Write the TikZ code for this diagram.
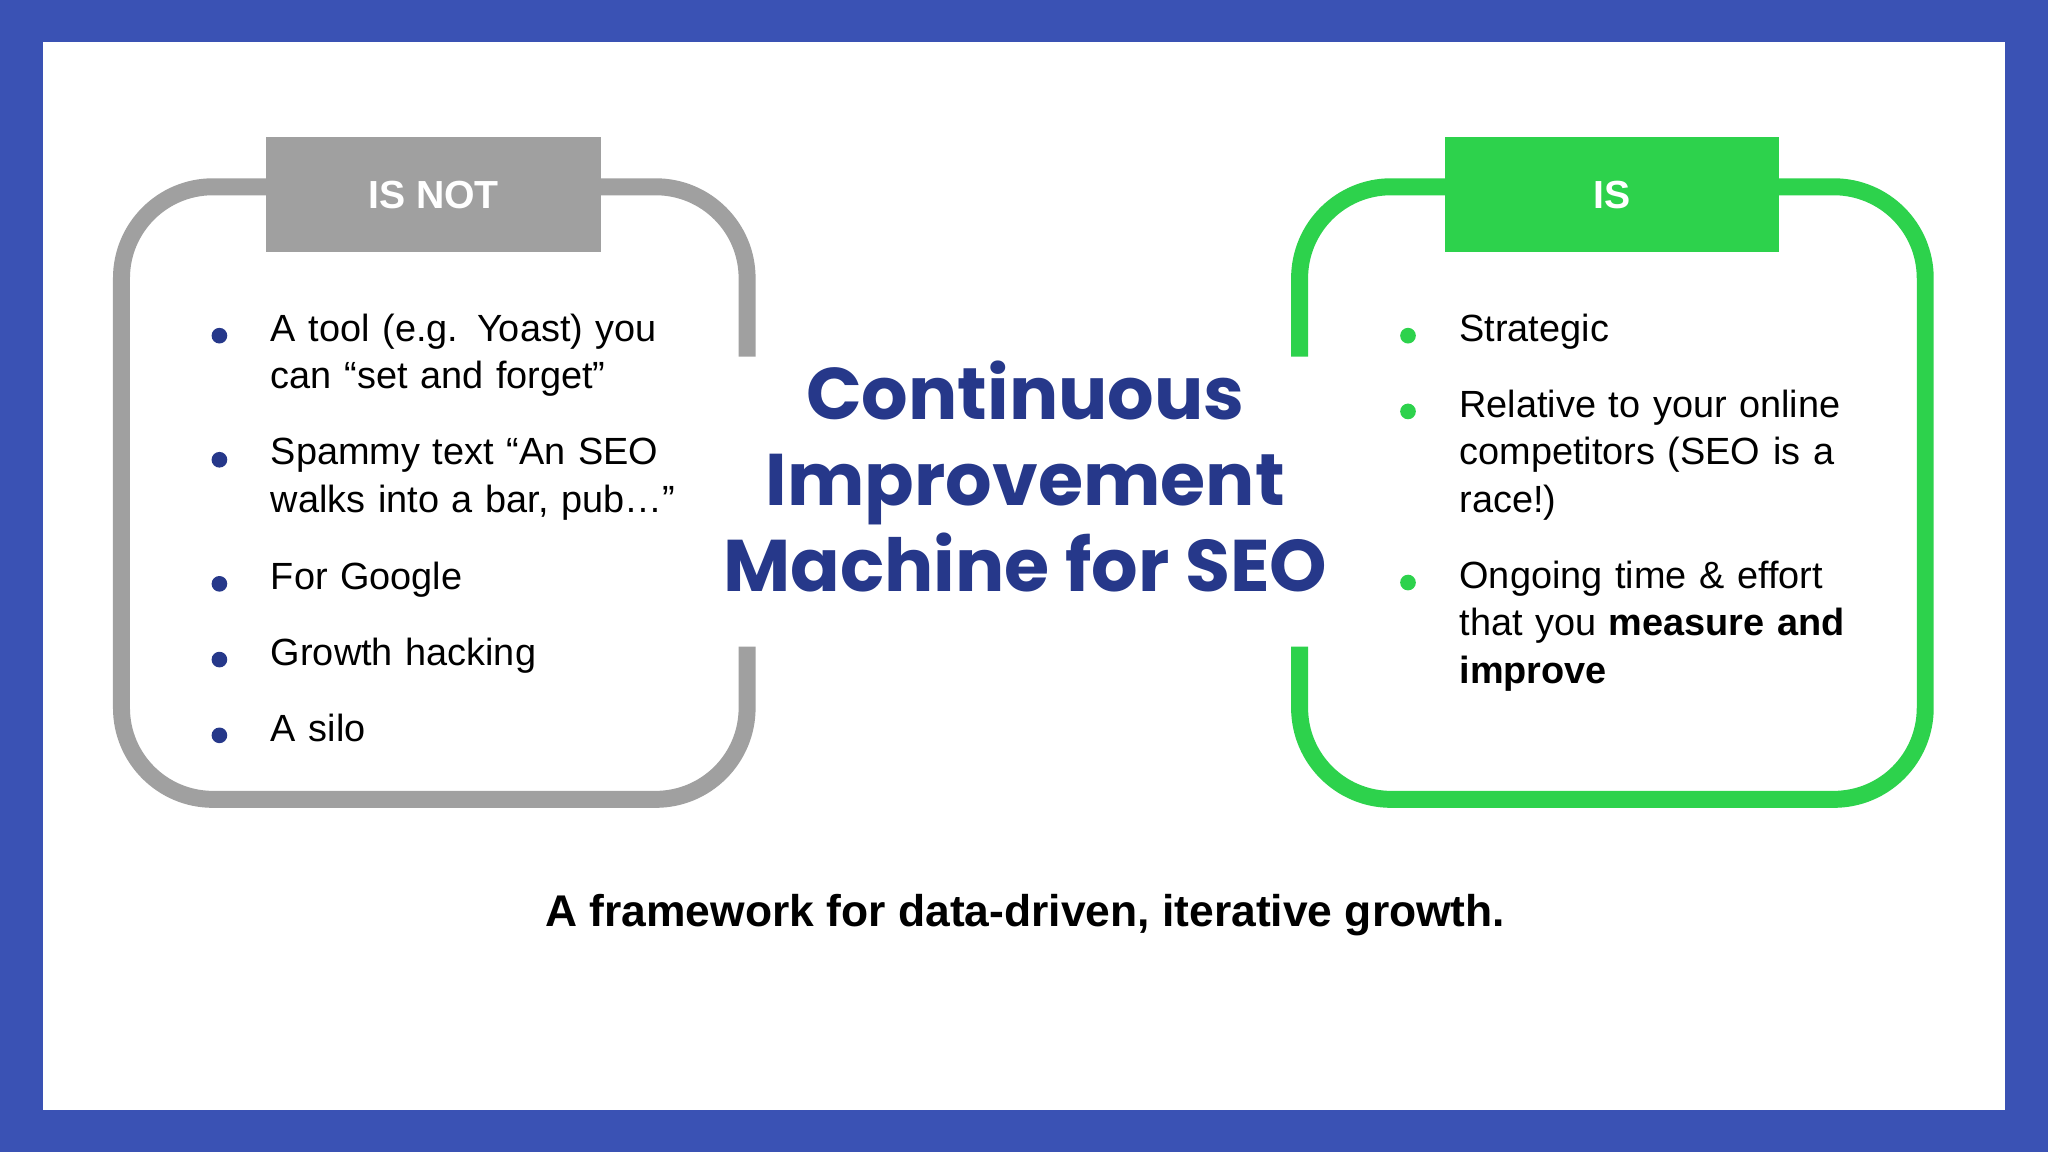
\documentclass[tikz,border=0pt]{standalone}
\usepackage{fontspec}
\setmainfont{Liberation Sans}
\newfontfamily\titlefont{Poppins}
\definecolor{bgblue}{HTML}{3A52B4}
\definecolor{navy}{HTML}{26388A}
\definecolor{gbox}{HTML}{A0A0A0}
\definecolor{grn}{HTML}{2DD24C}
\begin{document}
\begin{tikzpicture}[x=0.5pt,y=-0.5pt,
  frame/.style={line width=6.5pt,rounded corners=35pt},
  hdr/.style={minimum width=128pt,minimum height=44pt,inner sep=0pt,text=white,font=\fontsize{15}{18}\selectfont\bfseries},
  item/.style={anchor=north west,align=left,text width=160pt,font=\fontsize{14.5}{18.2}\selectfont,inner sep=0pt},
  dot/.style={circle,inner sep=0pt,minimum size=6pt}]
\fill[bgblue] (0,0) rectangle (1568,882);
\fill[white] (33,32) rectangle (1535,850);
% left box
\draw[frame,gbox] (572,273) -- (572,143) -- (93,143) -- (93,612) -- (572,612) -- (572,495);
\node[hdr,fill=gbox] (hn) at (332,149) {IS NOT};
% right box
\draw[frame,grn] (995,273) -- (995,143) -- (1474,143) -- (1474,612) -- (995,612) -- (995,495);
\node[hdr,fill=grn] (hi) at (1234,149) {IS};
% title
\node[font=\titlefont\fontsize{28}{33}\selectfont\bfseries,text=navy,align=center] (t) at (785,365) {Continuous\\Improvement\\Machine for SEO};
% left items
\foreach \y/\t [count=\i] in {240/{A tool (e.g. Yoast) you can “set and forget”},335/{Spammy text “An SEO walks into a bar, pub…”},430/{For Google},488/{Growth hacking},546/{A silo}}{
  \node[item] (l\i) at (207,\y) {\t};
  \node[dot,fill=navy] (ld\i) at (168,\y+17) {};
}
% right items
\foreach \y/\t [count=\i] in {240/{Strategic},298/{Relative to your online competitors (SEO is a race!)},429/{Ongoing time \& effort that you \textbf{measure and improve}}}{
  \node[item] (r\i) at (1117,\y) {\t};
  \node[dot,fill=grn] (rd\i) at (1078,\y+17) {};
}
\node[font=\fontsize{17}{20}\selectfont\bfseries] (b) at (785,701) {A framework for data-driven, iterative growth.};
\end{tikzpicture}
\end{document}
